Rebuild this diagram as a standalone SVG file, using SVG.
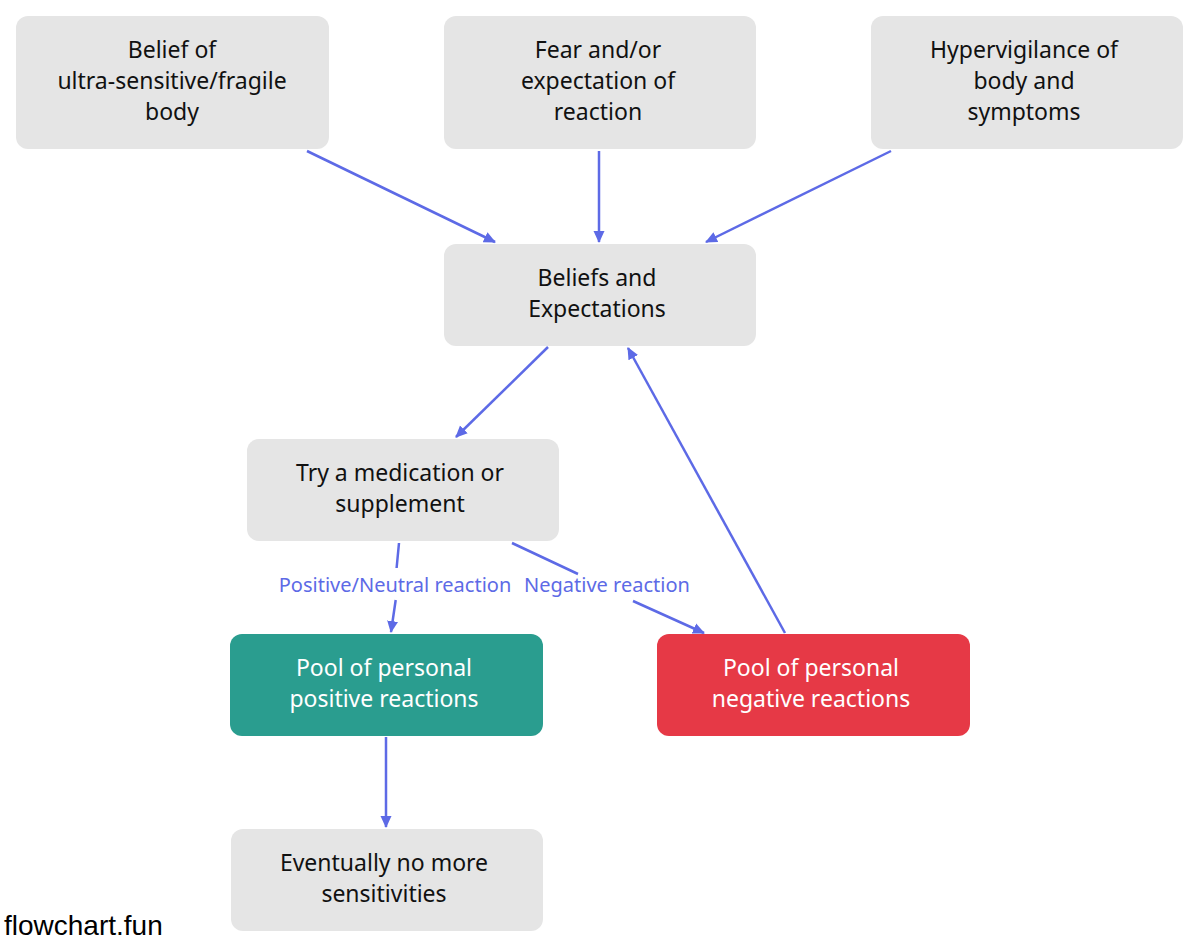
<svg xmlns="http://www.w3.org/2000/svg" width="1200" height="949" viewBox="0 0 1200 949">
<defs>
<marker id="ah" viewBox="0 0 12 12" refX="11" refY="6" markerWidth="12" markerHeight="12" markerUnits="userSpaceOnUse" orient="auto">
<path d="M0,0.5 L12,6 L0,11.5 Z" fill="#5d6ae6"/>
</marker>
<style>
.n{fill:#e5e5e5}
.g{fill:#2a9d8f}
.r{fill:#e63946}
.t{font-family:"Noto Sans","Open Sans",sans-serif;font-size:23px;fill:#111;text-anchor:middle}
.w{fill:#ffffff}
.e{fill:none;stroke:#5d6ae6;stroke-width:2.5;marker-end:url(#ah)}
.l{font-family:"Noto Sans","Open Sans",sans-serif;font-size:20px;fill:#5d6ae6;text-anchor:middle}
</style>
</defs>
<rect width="1200" height="949" fill="#ffffff"/>
<g id="edges">
<path class="e" d="M307,151 L495,242"/>
<path class="e" d="M599,151 L599,242"/>
<path class="e" d="M891,151 L706,242"/>
<path class="e" d="M548,347 L456,437"/>
<path class="e" d="M785,633 L628,348"/>
<path class="e" d="M399,543 L396.6,568 M395.7,600 L391,632"/>
<path class="e" d="M512,543 L578,574 M633,601 L704,633"/>
<path class="e" d="M386,737 L386,827"/>
<text class="l" x="395" y="592">Positive/Neutral reaction</text>
<text class="l" x="607" y="592">Negative reaction</text>
</g>
<g id="n1"><rect class="n" x="16" y="16" width="313" height="133" rx="12"/>
<text class="t" x="172" y="58">Belief of</text><text class="t" x="172" y="89">ultra-sensitive/fragile</text><text class="t" x="172" y="120">body</text></g>
<g id="n2"><rect class="n" x="444" y="16" width="312" height="133" rx="12"/>
<text class="t" x="598" y="58">Fear and/or</text><text class="t" x="598" y="89">expectation of</text><text class="t" x="598" y="120">reaction</text></g>
<g id="n3"><rect class="n" x="871" y="16" width="312" height="133" rx="12"/>
<text class="t" x="1024" y="58">Hypervigilance of</text><text class="t" x="1024" y="89">body and</text><text class="t" x="1024" y="120">symptoms</text></g>
<g id="n4"><rect class="n" x="444" y="244" width="312" height="102" rx="12"/>
<text class="t" x="597" y="286">Beliefs and</text><text class="t" x="597" y="317">Expectations</text></g>
<g id="n5"><rect class="n" x="247" y="439" width="312" height="102" rx="12"/>
<text class="t" x="400" y="481">Try a medication or</text><text class="t" x="400" y="512">supplement</text></g>
<g id="n6"><rect class="g" x="230" y="634" width="313" height="102" rx="12"/>
<text class="t w" x="384" y="676">Pool of personal</text><text class="t w" x="384" y="707">positive reactions</text></g>
<g id="n7"><rect class="r" x="657" y="634" width="313" height="102" rx="12"/>
<text class="t w" x="811" y="676">Pool of personal</text><text class="t w" x="811" y="707">negative reactions</text></g>
<g id="n8"><rect class="n" x="231" y="829" width="312" height="102" rx="12"/>
<text class="t" x="384" y="871">Eventually no more</text><text class="t" x="384" y="902">sensitivities</text></g>
<text x="4" y="935" style="font-family:'Liberation Sans',Arial,sans-serif;font-size:28px;fill:#000">flowchart.fun</text>
</svg>
